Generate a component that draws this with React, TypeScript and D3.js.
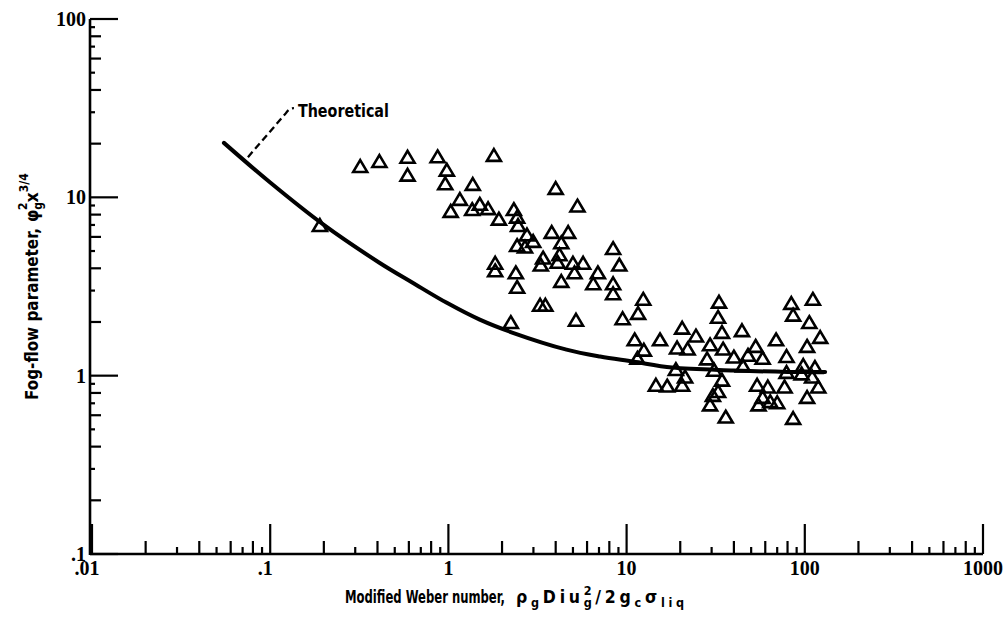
import React, { useRef, useEffect } from 'react';
import * as d3 from 'd3';

// measured points (modified Weber number vs fog-flow parameter)
const weberNumber = [
    0.19, 0.32, 0.41, 0.59, 0.59, 0.87, 0.98, 0.96, 1.8, 1.37,
    1.16, 1.03, 1.36, 1.5, 1.67, 1.92, 2.33, 2.43, 2.46, 2.76,
    2.99, 2.43, 2.69, 4.0, 5.3, 3.8, 4.7, 4.3, 4.2, 3.4,
    3.3, 4.1, 5.0, 5.7, 5.1, 4.3, 1.83, 1.83, 2.39, 2.43,
    3.27, 3.5, 2.24, 5.2, 8.4, 9.1, 6.9, 6.5, 8.4, 8.4,
    12.4, 9.5, 11.6, 11.1, 15.4, 12.5, 11.5, 20.5, 24.5, 19.2,
    22, 18.9, 14.6, 16.9, 21.3, 20.5, 33, 32.6, 34.3, 29.4,
    34.8, 44.4, 28.3, 31, 40, 48, 53, 58, 45, 34.3,
    30.5, 32.6, 29.4, 36, 54, 62, 58, 64, 55, 70,
    69, 79, 77, 79, 86, 84, 86, 111, 106, 122,
    103, 98, 114, 110, 96, 119, 103
];
const fogParameter = [
    7.0, 15, 16, 16.9, 13.4, 17, 14.3, 12, 17.3, 11.9,
    9.8, 8.4, 8.6, 9.2, 8.7, 7.6, 8.6, 7.8, 7.0, 6.2,
    5.7, 5.4, 5.3, 11.3, 9.0, 6.4, 6.4, 5.6, 4.8, 4.6,
    4.2, 4.35, 4.3, 4.3, 3.8, 3.4, 4.3, 3.9, 3.8, 3.15,
    2.5, 2.5, 2.0, 2.06, 5.2, 4.2, 3.8, 3.3, 3.3, 2.9,
    2.7, 2.1, 2.25, 1.6, 1.6, 1.4, 1.26, 1.86, 1.68, 1.44,
    1.42, 1.09, 0.89, 0.88, 0.99, 0.89, 2.6, 2.14, 1.76, 1.5,
    1.42, 1.8, 1.25, 1.08, 1.28, 1.31, 1.47, 1.26, 1.14, 0.95,
    0.78, 0.82, 0.69, 0.59, 0.89, 0.87, 0.76, 0.72, 0.69, 0.71,
    1.6, 1.29, 0.87, 1.05, 0.58, 2.56, 2.2, 2.7, 2.0, 1.65,
    1.47, 1.15, 1.12, 0.99, 1.03, 0.87, 0.76
];

// theoretical curve
const theoryWeber = [0.055, 0.1, 0.2, 0.41, 0.63, 0.98, 1.5, 2.3, 4.6, 7.1, 10.9, 18, 40, 80, 130];
const theoryFog = [20.2, 12.1, 7.0, 4.3, 3.32, 2.56, 2.06, 1.74, 1.40, 1.28, 1.20, 1.11, 1.07, 1.05, 1.05];
const theoryNoteAt = [0.075, 16.8];

const xTickValues = [0.01, 0.1, 1, 10, 100, 1000];
const xTickLabels = ['.01', '.1', '1', '10', '100', '1000'];
const yTickValues = [0.1, 1, 10, 100];
const yTickLabels = ['.1', '1', '10', '100'];

const sans = "'DejaVu Sans Condensed', 'DejaVu Sans', sans-serif";
const serif = "'Liberation Serif', serif";

const FogFlowChart = () => {
    const chartRef = useRef<SVGSVGElement | null>(null);

    useEffect(() => {
        const svg = d3.select(chartRef.current);
        svg.selectAll('*').remove();

        const x = d3.scaleLog().domain([0.01, 1000]).range([92, 983]);
        const y = d3.scaleLog().domain([0.1, 100]).range([554, 19]);
        const x0 = x(0.01) - 2;
        const y0 = y(0.1);

        const g = svg.append('g');

        // axes
        g.append('line')
            .attr('x1', x0).attr('x2', x(1000))
            .attr('y1', y0).attr('y2', y0)
            .attr('stroke', '#000').attr('stroke-width', 2.6);
        g.append('line')
            .attr('x1', x0).attr('x2', x0)
            .attr('y1', y(100)).attr('y2', y0 + 1)
            .attr('stroke', '#000').attr('stroke-width', 2.6);

        // 1 = major, even mantissa = long minor, odd = short minor
        const mant = (v: number) => Math.round(v / Math.pow(10, Math.floor(Math.log10(v) + 1e-9)));
        const tickLen = (v: number) => {
            const m = mant(v);
            return m === 1 ? 30 : m % 2 === 0 ? 13 : 7;
        };

        g.selectAll('.xtick')
            .data(x.ticks())
            .join('line')
            .attr('class', 'xtick')
            .attr('x1', d => x(d)).attr('x2', d => x(d))
            .attr('y1', y0).attr('y2', d => y0 - tickLen(d))
            .attr('stroke', '#000').attr('stroke-width', 2.2);

        g.selectAll('.ytick')
            .data(y.ticks())
            .join('line')
            .attr('class', 'ytick')
            .attr('x1', x0).attr('x2', d => x0 + tickLen(d) - 2)
            .attr('y1', d => y(d)).attr('y2', d => y(d))
            .attr('stroke', '#000').attr('stroke-width', 2.2);

        g.selectAll('.xlabel')
            .data(xTickValues)
            .join('text')
            .attr('class', 'xlabel')
            .attr('x', d => x(d))
            .attr('dx', (d, i) => (xTickLabels[i].startsWith('.') ? -5 : 0))
            .attr('y', y0 + 21)
            .attr('text-anchor', 'middle')
            .attr('font-family', serif)
            .attr('font-weight', 'bold')
            .attr('font-size', 20)
            .text((d, i) => xTickLabels[i]);

        g.selectAll('.ylabel')
            .data(yTickValues)
            .join('text')
            .attr('class', 'ylabel')
            .attr('x', x0 - 4)
            .attr('y', d => y(d) + 7)
            .attr('text-anchor', 'end')
            .attr('font-family', serif)
            .attr('font-weight', 'bold')
            .attr('font-size', 20)
            .text((d, i) => yTickLabels[i]);

        // theoretical curve
        const theory = theoryWeber.map((w, i) => [w, theoryFog[i]] as [number, number]);
        const line = d3.line<[number, number]>()
            .x(d => x(d[0]))
            .y(d => y(d[1]))
            .curve(d3.curveCatmullRom.alpha(0.5));
        g.append('path')
            .datum(theory)
            .attr('fill', 'none')
            .attr('stroke', '#000')
            .attr('stroke-width', 4)
            .attr('stroke-linecap', 'round')
            .attr('d', line);

        // leader + label
        const ax = x(theoryNoteAt[0]);
        const ay = y(theoryNoteAt[1]);
        g.append('path')
            .attr('d', `M${ax},${ay} L${ax + 38},${ay - 44} Q${ax + 41},${ay - 49} ${ax + 46},${ay - 49}`)
            .attr('fill', 'none')
            .attr('stroke', '#000')
            .attr('stroke-width', 2.3)
            .attr('stroke-dasharray', '7,4');
        g.append('text')
            .attr('x', ax + 50)
            .attr('y', ay - 40)
            .attr('font-family', sans)
            .attr('font-weight', 'bold')
            .attr('font-size', 18)
            .attr('textLength', 91)
            .attr('lengthAdjust', 'spacingAndGlyphs')
            .text('Theoretical');

        // data triangles
        const pts = weberNumber.map((w, i) => [w, fogParameter[i]] as [number, number]);
        g.selectAll('.pt')
            .data(pts)
            .join('path')
            .attr('class', 'pt')
            .attr('transform', d => `translate(${x(d[0])},${y(d[1])})`)
            .attr('d', 'M0,-5.8L7,6L-7,6Z')
            .attr('fill', 'none')
            .attr('stroke', '#000')
            .attr('stroke-width', 2.6);

        // x title
        const xt = g.append('g').attr('font-family', sans).attr('font-weight', 'bold');
        xt.append('text')
            .attr('x', 345).attr('y', 603)
            .attr('font-size', 18)
            .attr('textLength', 160)
            .attr('lengthAdjust', 'spacingAndGlyphs')
            .text('Modified Weber number,');
        const xf = xt.append('text')
            .attr('x', 516).attr('y', 603)
            .attr('font-size', 17.5);
        xf.append('tspan').text('ρ');
        xf.append('tspan').attr('font-size', 12.5).attr('dy', 4).text('g');
        xf.append('tspan').attr('dy', -4).text('Diu');
        const gSub = xf.append('tspan').attr('font-size', 12.5).attr('dy', 4).text('g');
        const sup = xf.append('tspan').attr('font-size', 12.5).attr('dy', -12).text('2');
        xf.append('tspan').attr('dy', 8).text('/2g');
        xf.append('tspan').attr('font-size', 12.5).attr('dy', 4).text('c');
        xf.append('tspan').attr('dy', -4).text('σ');
        xf.append('tspan').attr('font-size', 12.5).attr('dy', 4).text('liq');

        // spread the formula so it ends where the reference does
        const xfNode = xf.node() as SVGTextElement;
        const w0 = xfNode.getBBox().width;
        const ls = Math.max(0, (180 - w0) / 14);
        xf.attr('letter-spacing', ls);
        const gLen = (gSub.node() as SVGTSpanElement).getComputedTextLength();
        sup.attr('dx', -gLen);

        // y title
        const yt = g.append('g')
            .attr('transform', 'translate(38,400) rotate(-90)')
            .attr('font-family', sans)
            .attr('font-weight', 'bold');
        yt.append('text')
            .attr('x', 0).attr('y', 0)
            .attr('font-size', 17.5)
            .attr('textLength', 172)
            .attr('lengthAdjust', 'spacingAndGlyphs')
            .text('Fog-flow parameter,');
        const yf = yt.append('text').attr('x', 178).attr('y', 0).attr('font-size', 17.5);
        yf.append('tspan').text('φ');
        yf.append('tspan').attr('font-size', 12).attr('dy', 4).text('g');
        yf.append('tspan').attr('font-size', 12).attr('dx', -8).attr('dy', -15).text('2');
        yf.append('tspan').attr('dy', 11).text('x');
        yf.append('tspan').attr('font-size', 12).attr('dy', -10).text('3/4');
    }, []);

    return (
        <svg
            ref={chartRef}
            width={1007}
            height={620}
            style={{ position: 'absolute', left: 0, top: 0, background: '#fff' }}
        />
    );
};

export default function App() {
    return <FogFlowChart />;
}
